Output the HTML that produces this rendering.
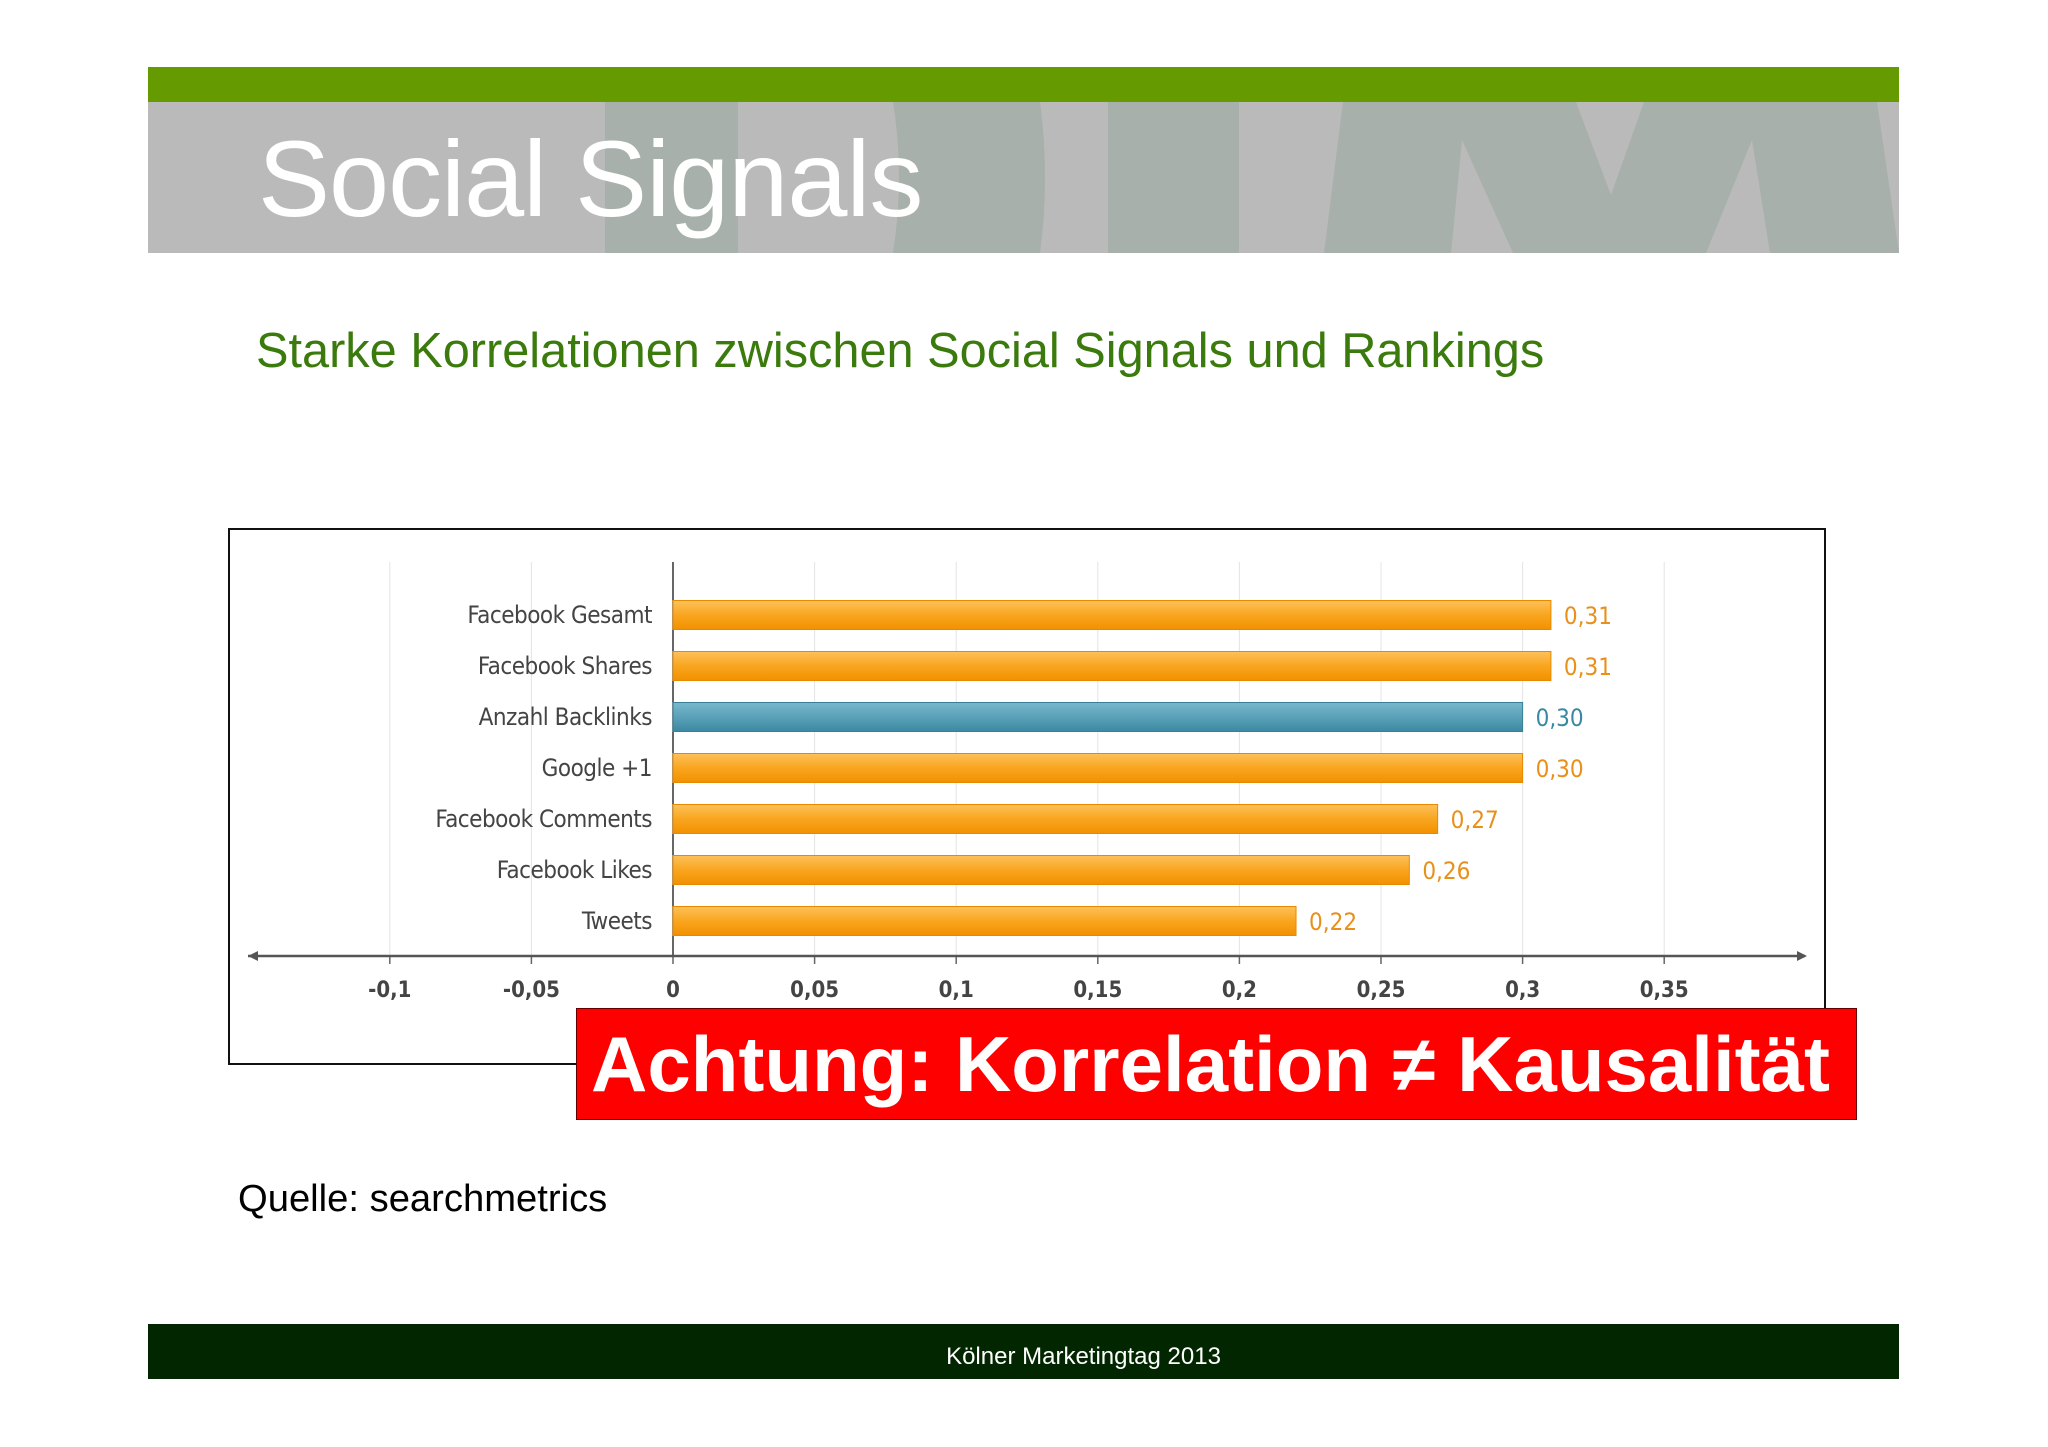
<!DOCTYPE html>
<html><head><meta charset="utf-8"><style>
body{margin:0;width:2048px;height:1447px;background:#fff;overflow:hidden;position:relative;font-family:"Liberation Sans",sans-serif}
.abs{position:absolute}
</style></head><body>
<div class="abs" style="left:148px;top:67px;width:1751px;height:35px;background:#659a00"></div>
<svg class="abs" style="left:0;top:0" width="2048" height="260">
<rect x="148" y="102" width="1751" height="151" fill="#bababa"/>
<rect x="605" y="102" width="133" height="151" fill="#a7b0aa"/>
<path d="M893 102 L1040 102 Q1050 178 1040 253 L893 253 Q905 178 893 102Z" fill="#a7b0aa"/>
<rect x="1108" y="102" width="131" height="151" fill="#a7b0aa"/>
<polygon points="1343,102 1576,102 1611,195 1644,102 1877,102 1899,253 1770,253 1752,140 1706,253 1513,253 1462,140 1451,253 1324,253" fill="#a7b0aa"/>
<text x="258" y="216" font-size="108" letter-spacing="-1" fill="#fff" font-family="Liberation Sans">Social Signals</text>
</svg>
<div class="abs" style="left:256px;top:323px;font-size:48.7px;color:#3b7a0c;white-space:nowrap">Starke Korrelationen zwischen Social Signals und Rankings</div>
<svg class="abs" id="chart" style="left:0;top:0" width="2048" height="1447"></svg>
<div class="abs" style="left:576px;top:1008px;width:1279px;height:110px;background:#fe0000;border:1px solid #600;color:#fff;font-weight:bold;font-size:78px;line-height:110px;text-align:center;white-space:nowrap"><span style="position:relative;left:-6px">Achtung: Korrelation ≠ Kausalität</span></div>
<div class="abs" style="left:238px;top:1177px;font-size:38.2px;color:#000">Quelle: searchmetrics</div>
<div class="abs" style="left:148px;top:1324px;width:1751px;height:55px;background:#022700;color:#fff;font-size:24px;line-height:72px;text-align:center"><span style="position:relative;left:60px;top:-3px">Kölner Marketingtag 2013</span></div>
<script>
const categories=["Facebook Gesamt","Facebook Shares","Anzahl Backlinks","Google +1","Facebook Comments","Facebook Likes","Tweets"];
const values=[0.31,0.31,0.30,0.30,0.27,0.26,0.22];
const valueLabels=["0,31","0,31","0,30","0,30","0,27","0,26","0,22"];
const highlight=[false,false,true,false,false,false,false];
const ticks=[-0.1,-0.05,0,0.05,0.1,0.15,0.2,0.25,0.3,0.35];
const tickLabels=["-0,1","-0,05","0","0,05","0,1","0,15","0,2","0,25","0,3","0,35"];
const NS="http://www.w3.org/2000/svg";
const svg=document.getElementById('chart');
const x=v=>673+v*(141.6/0.05);
const y=i=>615+i*51;
function mk(t,a,p){const e=document.createElementNS(NS,t);for(const k in a)e.setAttribute(k,a[k]);(p||svg).appendChild(e);return e;}
svg.innerHTML='<defs><linearGradient id="go" x1="0" y1="0" x2="0" y2="1"><stop offset="0" stop-color="#fdc15a"/><stop offset="0.5" stop-color="#f9a51f"/><stop offset="1" stop-color="#f29100"/></linearGradient><linearGradient id="gb" x1="0" y1="0" x2="0" y2="1"><stop offset="0" stop-color="#78b8cc"/><stop offset="0.5" stop-color="#5aa1b8"/><stop offset="1" stop-color="#3c88a2"/></linearGradient></defs>';
const box=mk('rect',{x:229,y:529,width:1596,height:535,fill:'#fff',stroke:'#111','stroke-width':2});


ticks.forEach((t,i)=>{
 const g=mk('line',{x1:x(t),x2:x(t),y1:562,y2:956,stroke:t===0?'#333':'#e4e4e4','stroke-width':t===0?1.5:1});
 
 
 mk('line',{x1:x(t),x2:x(t),y1:956,y2:964,stroke:'#666','stroke-width':1.5});
 const tl=mk('text',{x:x(t),y:997,'text-anchor':'middle','font-size':22,'font-weight':'bold',fill:'#444','font-family':'DejaVu Sans Condensed, DejaVu Sans, sans-serif'});
 tl.textContent=tickLabels[i];
 
 
});
const ax=mk('line',{x1:248,x2:1805,y1:956,y2:956,stroke:'#555','stroke-width':2.5});


mk('polygon',{points:'248,956 258,951 258,961',fill:'#555'});
mk('polygon',{points:'1807,956 1797,951 1797,961',fill:'#555'});
categories.forEach((c,i)=>{
 const cy=y(i);
 const r=mk('rect',{x:x(0),y:cy-14.5,width:x(values[i])-x(0),height:29,fill:highlight[i]?'url(#gb)':'url(#go)',stroke:highlight[i]?'#3a7f98':'#e88a00','stroke-width':1});
 
 
 const l=mk('text',{x:652,y:cy+8,'text-anchor':'end','font-size':24,fill:'#444','font-family':'DejaVu Sans Condensed, DejaVu Sans, sans-serif','letter-spacing':'-0.5'});
 l.textContent=c;
 
 
 const v=mk('text',{x:x(values[i])+13,y:cy+9,'font-size':24,fill:highlight[i]?'#3a89a2':'#e8901a','font-family':'DejaVu Sans Condensed, DejaVu Sans, sans-serif'});
 v.textContent=valueLabels[i];
 
 
});
</script>
</body></html>
